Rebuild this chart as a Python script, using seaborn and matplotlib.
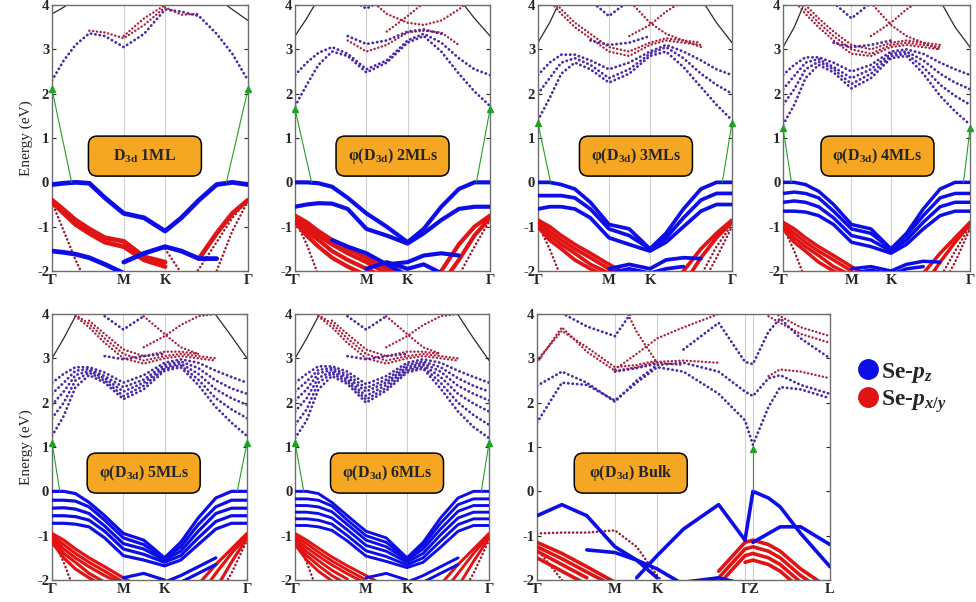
import numpy as np
import pandas as pd
import matplotlib
matplotlib.use('Agg')
import matplotlib.pyplot as plt
from matplotlib.lines import Line2D
from matplotlib.patches import FancyBboxPatch
import seaborn as sns

NA = np.nan

# k path for the slabs: G - M - K - G (fraction of path length)
k_slab = [0, 0.06, 0.12, 0.19, 0.27, 0.366, 0.47, 0.577, 0.66, 0.75, 0.84, 0.92, 1.0]
slab_ticks = [0, 0.366, 0.577, 1.0]
slab_names = ['Γ', 'M', 'K', 'Γ']

# k path for the bulk: G - M - K - G | Z - L
k_bulk = [0, 0.085, 0.17, 0.266, 0.34, 0.41, 0.5, 0.62, 0.71, 0.737, 0.79, 0.83, 0.9, 1.0]
bulk_ticks = [0, 0.266, 0.41, 0.71, 0.737, 1.0]
bulk_names = ['Γ', 'M', 'K', 'Γ', 'Z', 'L']

# ---------------- 1ML ----------------
ml1_blue = [
    [-0.05, -0.02, 0.0, -0.02, -0.35, -0.7, -0.8, -1.1, -0.8, -0.4, -0.05, 0.0, -0.05],
    [-1.55, -1.58, -1.62, -1.7, -1.85, -2.05, NA, NA, NA, NA, NA, NA, NA],
    [NA, NA, NA, NA, NA, -1.8, -1.6, -1.45, -1.55, -1.72, -1.72, NA, NA],
]
ml1_red = [
    [-0.4, -0.62, -0.85, -1.05, -1.25, -1.33, -1.68, -1.8, NA, NA, NA, NA, NA],
    [-0.45, -0.7, -0.95, -1.15, -1.35, -1.45, -1.75, -1.9, NA, NA, NA, NA, NA],
    [NA, NA, NA, NA, NA, NA, NA, NA, NA, -1.72, -1.15, -0.7, -0.4],
]
ml1_red_thin = [
    [-0.45, -1.1, -1.75, -2.4, NA, NA, NA, NA, NA, NA, NA, NA, NA],
    [NA, NA, NA, NA, NA, NA, NA, NA, -2.5, -1.95, -1.35, -0.8, -0.4],
    [NA, NA, NA, NA, NA, NA, NA, NA, NA, -2.8, -2.0, -1.1, -0.42],
    [NA, NA, NA, NA, NA, NA, NA, -1.5, -2.05, NA, NA, NA, NA],
]
ml1_cond = [
    [2.3, 2.75, 3.1, 3.36, 3.3, 3.05, 3.35, 3.9, 3.85, 3.75, 3.35, 2.9, 2.3],
]
ml1_cond_red = [
    [NA, NA, NA, 3.42, 3.38, 3.25, 3.55, 3.95, 3.78, 3.8, NA, NA, NA],
    [NA, NA, NA, NA, NA, 3.3, 3.7, 4.0, 4.15, NA, NA, NA, NA],
]
ml1_dark = [
    [3.8, 3.95, 4.15, NA, NA, NA, NA, NA, NA, NA, NA, NA, NA],
    [NA, NA, NA, NA, NA, NA, NA, NA, NA, NA, 4.15, 3.9, 3.65],
]
ml1_gap = [2.1, 0.1, 0.89]

# ---------------- 2MLs ----------------
ml2_blue = [
    [0.0, 0.0, -0.02, -0.1, -0.35, -0.7, -1.0, -1.35, -1.05, -0.55, -0.15, 0.0, 0.0],
    [-0.55, -0.5, -0.47, -0.48, -0.6, -1.05, -1.2, -1.38, -1.15, -0.85, -0.6, -0.55, -0.55],
    [NA, NA, NA, -1.3, -1.45, -1.6, -1.85, -2.1, NA, NA, NA, NA, NA],
    [NA, NA, NA, NA, NA, NA, -1.85, -1.8, -1.65, -1.6, -1.65, NA, NA],
    [NA, NA, NA, NA, NA, -1.95, -1.8, -1.95, -1.85, -2.05, NA, NA, NA],
]
ml2_red = [
    [-0.75, -0.9, -1.1, -1.3, -1.5, -1.7, -1.95, -2.1, NA, NA, NA, NA, NA],
    [-0.8, -1.0, -1.2, -1.4, -1.6, -1.8, -2.05, NA, NA, NA, NA, NA, NA],
    [-0.85, -1.1, -1.3, -1.55, -1.75, -1.95, -2.15, NA, NA, NA, NA, NA, NA],
    [-0.9, -1.2, -1.45, -1.7, -1.9, -2.1, NA, NA, NA, NA, NA, NA, NA],
    [NA, NA, NA, NA, NA, NA, NA, NA, -2.5, -2.0, -1.4, -1.0, -0.75],
    [NA, NA, NA, NA, NA, NA, NA, NA, NA, -2.3, -1.75, -1.2, -0.8],
]
ml2_red_thin = [
    [-0.85, -1.4, -2.1, NA, NA, NA, NA, NA, NA, NA, NA, NA, NA],
    [NA, NA, NA, NA, NA, NA, NA, NA, NA, NA, -2.1, -1.45, -0.85],
]
ml2_cond = [
    [2.42, 2.7, 2.92, 3.05, 2.9, 2.55, 2.75, 3.2, 3.35, 3.15, 2.8, 2.55, 2.42],
    [1.72, 2.2, 2.65, 2.95, 2.85, 2.48, 2.7, 3.15, 3.3, 2.95, 2.45, 2.05, 1.72],
    [NA, NA, NA, NA, 3.3, 3.12, 3.2, 3.4, 3.45, 3.35, NA, NA, NA],
    [NA, NA, NA, NA, 4.15, 3.92, 4.15, NA, NA, NA, NA, NA, NA],
]
ml2_cond_red = [
    [NA, NA, NA, NA, 3.2, 2.95, 3.1, 3.38, 3.42, 3.38, 3.1, NA, NA],
    [NA, NA, NA, NA, NA, 4.2, 3.8, 3.6, 3.55, 3.65, 3.9, 4.2, NA],
    [NA, NA, NA, NA, NA, NA, 3.4, 3.75, 4.05, NA, NA, NA, NA],
]
ml2_dark = [
    [3.3, 3.7, 4.15, NA, NA, NA, NA, NA, NA, NA, NA, NA, NA],
    [NA, NA, NA, NA, NA, NA, NA, NA, NA, NA, 4.15, 3.7, 3.3],
]
ml2_gap = [1.65, 0.085, 0.93]

# ---------------- 3MLs ----------------
ml3_blue = [
    [0.0, 0.0, -0.05, -0.15, -0.45, -0.95, -1.05, -1.5, -1.15, -0.6, -0.15, 0.0, 0.0],
    [-0.3, -0.3, -0.3, -0.35, -0.6, -1.05, -1.2, -1.5, -1.25, -0.8, -0.4, -0.25, -0.25],
    [-0.6, -0.55, -0.55, -0.6, -0.8, -1.25, -1.4, -1.55, -1.35, -1.0, -0.65, -0.5, -0.5],
    [NA, NA, NA, NA, NA, -1.95, -1.85, -1.95, -1.75, -1.7, -1.72, NA, NA],
    [NA, NA, NA, NA, NA, -2.05, -1.95, -2.05, -1.95, -1.9, NA, NA, NA],
]
ml3_red = [
    [-0.85, -1.0, -1.2, -1.4, -1.6, -1.85, -2.1, NA, NA, NA, NA, NA, NA],
    [-0.9, -1.1, -1.3, -1.5, -1.7, -1.95, -2.2, NA, NA, NA, NA, NA, NA],
    [-0.95, -1.2, -1.4, -1.6, -1.85, -2.05, NA, NA, NA, NA, NA, NA, NA],
    [-1.0, -1.3, -1.5, -1.75, -1.95, -2.15, NA, NA, NA, NA, NA, NA, NA],
    [NA, NA, NA, NA, NA, NA, NA, NA, -2.4, -2.0, -1.5, -1.15, -0.85],
    [NA, NA, NA, NA, NA, NA, NA, NA, NA, -2.3, -1.7, -1.25, -0.9],
]
ml3_red_thin = [
    [-0.95, -1.5, -2.15, NA, NA, NA, NA, NA, NA, NA, NA, NA, NA],
    [NA, NA, NA, NA, NA, NA, NA, NA, NA, NA, -2.1, -1.45, -0.95],
    [NA, NA, NA, NA, NA, NA, NA, NA, NA, NA, -2.35, -1.7, -1.0],
]
ml3_cond = [
    [2.42, 2.7, 2.88, 2.88, 2.75, 2.55, 2.7, 2.95, 3.1, 2.95, 2.75, 2.55, 2.42],
    [2.0, 2.35, 2.7, 2.8, 2.65, 2.35, 2.55, 2.9, 3.05, 2.8, 2.45, 2.2, 2.0],
    [1.4, 1.9, 2.45, 2.7, 2.55, 2.25, 2.45, 2.85, 2.95, 2.6, 2.15, 1.75, 1.4],
    [NA, NA, NA, NA, 3.2, 3.1, 3.15, 3.3, NA, NA, NA, NA, NA],
    [NA, NA, NA, NA, 4.1, 3.75, 4.1, NA, NA, NA, NA, NA, NA],
]
ml3_cond_red = [
    [NA, 4.1, 3.8, 3.5, 3.25, 2.95, 2.85, 3.1, 3.2, 3.15, 3.1, NA, NA],
    [NA, 4.2, 3.9, 3.6, 3.35, 3.05, 2.95, 3.15, 3.25, 3.2, 3.15, NA, NA],
    [NA, NA, NA, NA, NA, NA, 4.1, 3.6, 3.35, 3.2, 3.05, NA, NA],
    [NA, NA, NA, NA, NA, NA, 3.3, 3.55, 3.85, 4.1, NA, NA, NA],
]
ml3_dark = [
    [3.15, 3.6, 4.15, NA, NA, NA, NA, NA, NA, NA, NA, NA, NA],
    [NA, NA, NA, NA, NA, NA, NA, NA, NA, NA, 4.15, 3.6, 3.15],
]
ml3_gap = [1.34, 0.065, 0.95]

# ---------------- 4MLs ----------------
ml4_blue = [
    [0.0, 0.0, -0.05, -0.2, -0.5, -0.95, -1.05, -1.5, -1.15, -0.6, -0.15, 0.0, 0.0],
    [-0.25, -0.22, -0.25, -0.35, -0.65, -1.05, -1.15, -1.5, -1.2, -0.75, -0.35, -0.25, -0.25],
    [-0.45, -0.42, -0.45, -0.55, -0.8, -1.2, -1.3, -1.55, -1.3, -0.9, -0.55, -0.45, -0.45],
    [-0.65, -0.65, -0.67, -0.75, -0.95, -1.35, -1.45, -1.6, -1.4, -1.05, -0.75, -0.65, -0.65],
    [NA, NA, NA, NA, NA, -1.95, -1.9, -2.0, -1.85, -1.78, -1.8, NA, NA],
    [NA, NA, NA, NA, NA, -2.05, -1.98, -2.08, -1.95, -1.9, NA, NA, NA],
]
ml4_red = [
    [-0.9, -1.05, -1.25, -1.45, -1.65, -1.9, -2.15, NA, NA, NA, NA, NA, NA],
    [-0.95, -1.15, -1.35, -1.55, -1.75, -2.0, NA, NA, NA, NA, NA, NA, NA],
    [-1.0, -1.25, -1.45, -1.65, -1.9, -2.1, NA, NA, NA, NA, NA, NA, NA],
    [-1.05, -1.35, -1.55, -1.8, -2.0, -2.2, NA, NA, NA, NA, NA, NA, NA],
    [NA, NA, NA, NA, NA, NA, NA, NA, -2.45, -2.05, -1.6, -1.25, -0.9],
    [NA, NA, NA, NA, NA, NA, NA, NA, NA, -2.35, -1.8, -1.35, -0.95],
]
ml4_red_thin = [
    [-1.0, -1.55, -2.2, NA, NA, NA, NA, NA, NA, NA, NA, NA, NA],
    [NA, NA, NA, NA, NA, NA, NA, NA, NA, NA, -2.15, -1.55, -1.0],
    [NA, NA, NA, NA, NA, NA, NA, NA, NA, NA, -2.4, -1.8, -1.05],
]
ml4_cond = [
    [2.42, 2.65, 2.82, 2.82, 2.7, 2.5, 2.65, 2.95, 3.0, 2.9, 2.7, 2.55, 2.42],
    [2.1, 2.4, 2.7, 2.78, 2.6, 2.35, 2.55, 2.9, 2.95, 2.75, 2.45, 2.25, 2.1],
    [1.75, 2.1, 2.55, 2.72, 2.55, 2.22, 2.45, 2.85, 2.9, 2.6, 2.2, 1.95, 1.75],
    [1.3, 1.75, 2.35, 2.65, 2.48, 2.12, 2.35, 2.8, 2.85, 2.45, 1.95, 1.6, 1.3],
    [NA, NA, NA, NA, 3.15, 3.05, 3.1, 3.2, NA, NA, NA, NA, NA],
    [NA, NA, NA, NA, 4.05, 3.7, 4.05, NA, NA, NA, NA, NA, NA],
]
ml4_cond_red = [
    [NA, NA, 3.9, 3.6, 3.3, 3.0, 2.9, 3.1, 3.15, 3.1, 3.05, NA, NA],
    [NA, NA, 4.0, 3.7, 3.4, 3.1, 3.0, 3.15, 3.2, 3.15, 3.1, NA, NA],
    [NA, 4.1, 3.8, 3.5, 3.2, 2.9, 2.85, 3.05, 3.1, 3.05, 3.0, NA, NA],
    [NA, NA, NA, NA, NA, NA, 4.05, 3.55, 3.3, 3.15, 3.0, NA, NA],
    [NA, NA, NA, NA, NA, NA, 3.3, 3.6, 3.9, 4.15, NA, NA, NA],
]
ml4_dark = [
    [3.05, 3.5, 4.1, NA, NA, NA, NA, NA, NA, NA, NA, NA, NA],
    [NA, NA, NA, NA, NA, NA, NA, NA, NA, NA, 4.1, 3.5, 3.05],
]
ml4_gap = [1.22, 0.045, 0.965]

# ---------------- 5MLs ----------------
ml5_blue = [
    [0.0, 0.0, -0.05, -0.25, -0.55, -0.95, -1.1, -1.5, -1.15, -0.6, -0.15, 0.0, 0.0],
    [-0.2, -0.2, -0.22, -0.35, -0.65, -1.05, -1.2, -1.52, -1.25, -0.75, -0.35, -0.2, -0.2],
    [-0.38, -0.37, -0.4, -0.5, -0.78, -1.18, -1.3, -1.55, -1.35, -0.9, -0.5, -0.38, -0.38],
    [-0.55, -0.55, -0.57, -0.65, -0.9, -1.3, -1.42, -1.6, -1.45, -1.05, -0.68, -0.55, -0.55],
    [-0.72, -0.72, -0.74, -0.8, -1.05, -1.45, -1.55, -1.68, -1.55, -1.2, -0.85, -0.72, -0.72],
    [NA, NA, NA, NA, NA, -1.95, -1.85, -2.0, NA, NA, NA, NA, NA],
    [NA, NA, NA, NA, NA, NA, NA, -2.05, -1.9, -1.7, -1.5, NA, NA],
    [NA, NA, NA, NA, NA, NA, NA, NA, -2.05, -1.85, -1.65, NA, NA],
]
ml5_red = [
    [-0.95, -1.1, -1.3, -1.5, -1.7, -1.95, -2.2, NA, NA, NA, NA, NA, NA],
    [-1.0, -1.2, -1.4, -1.6, -1.8, -2.05, NA, NA, NA, NA, NA, NA, NA],
    [-1.05, -1.3, -1.5, -1.7, -1.9, -2.1, NA, NA, NA, NA, NA, NA, NA],
    [-1.1, -1.4, -1.6, -1.85, -2.05, NA, NA, NA, NA, NA, NA, NA, NA],
    [-1.15, -1.5, -1.75, -1.95, -2.15, NA, NA, NA, NA, NA, NA, NA, NA],
    [NA, NA, NA, NA, NA, NA, NA, NA, -2.5, -2.1, -1.65, -1.3, -0.95],
    [NA, NA, NA, NA, NA, NA, NA, NA, NA, -2.4, -1.85, -1.4, -1.0],
    [NA, NA, NA, NA, NA, NA, NA, NA, NA, NA, -2.2, -1.6, -1.05],
]
ml5_red_thin = [
    [-1.05, -1.6, -2.3, NA, NA, NA, NA, NA, NA, NA, NA, NA, NA],
    [NA, NA, NA, NA, NA, NA, NA, NA, NA, NA, -2.45, -1.85, -1.1],
]
ml5_cond = [
    [2.45, 2.65, 2.8, 2.8, 2.68, 2.45, 2.62, 2.9, 2.98, 2.9, 2.72, 2.58, 2.45],
    [2.2, 2.45, 2.72, 2.76, 2.6, 2.35, 2.52, 2.85, 2.93, 2.78, 2.5, 2.32, 2.2],
    [1.95, 2.25, 2.62, 2.72, 2.55, 2.25, 2.45, 2.8, 2.88, 2.65, 2.3, 2.1, 1.95],
    [1.65, 2.0, 2.5, 2.68, 2.5, 2.15, 2.38, 2.76, 2.84, 2.52, 2.1, 1.85, 1.65],
    [1.25, 1.7, 2.35, 2.62, 2.45, 2.08, 2.3, 2.72, 2.8, 2.4, 1.9, 1.55, 1.25],
    [NA, NA, NA, NA, 3.05, 2.98, 3.05, 3.1, NA, NA, NA, NA, NA],
    [NA, NA, NA, NA, 3.95, 3.65, 3.95, NA, NA, NA, NA, NA, NA],
]
ml5_cond_red = [
    [NA, NA, 3.95, 3.7, 3.35, 3.0, 2.88, 3.0, 3.05, 3.0, 2.95, NA, NA],
    [NA, NA, 3.98, 3.78, 3.45, 3.1, 2.95, 3.05, 3.1, 3.05, 3.0, NA, NA],
    [NA, NA, NA, 3.85, 3.55, 3.2, 3.05, 3.15, 3.15, 3.1, NA, NA, NA],
    [NA, NA, NA, NA, NA, NA, 3.95, 3.55, 3.25, 3.1, NA, NA, NA],
    [NA, NA, NA, NA, NA, NA, 3.25, 3.5, 3.75, 3.95, 4.0, NA, NA],
]
ml5_dark = [
    [3.0, 3.45, 3.95, NA, NA, NA, NA, NA, NA, NA, NA, NA, NA],
    [NA, NA, NA, NA, NA, NA, NA, NA, NA, NA, 3.98, 3.5, 3.0],
]
ml5_gap = [1.1, 0.04, 0.95]

# ---------------- 6MLs ----------------
ml6_blue = [
    [0.0, 0.0, -0.05, -0.25, -0.55, -0.9, -1.05, -1.5, -1.15, -0.6, -0.15, 0.0, 0.0],
    [-0.17, -0.17, -0.2, -0.33, -0.65, -1.0, -1.15, -1.52, -1.22, -0.72, -0.3, -0.17, -0.17],
    [-0.32, -0.32, -0.35, -0.46, -0.75, -1.1, -1.25, -1.55, -1.3, -0.85, -0.45, -0.32, -0.32],
    [-0.47, -0.47, -0.5, -0.6, -0.87, -1.22, -1.35, -1.6, -1.4, -0.98, -0.6, -0.47, -0.47],
    [-0.62, -0.62, -0.65, -0.74, -1.0, -1.34, -1.47, -1.66, -1.5, -1.12, -0.75, -0.62, -0.62],
    [-0.77, -0.77, -0.8, -0.88, -1.12, -1.46, -1.58, -1.72, -1.6, -1.26, -0.9, -0.77, -0.77],
    [NA, NA, NA, NA, NA, -1.95, -1.85, -2.0, NA, NA, NA, NA, NA],
    [NA, NA, NA, NA, NA, NA, NA, -2.05, -1.9, -1.7, -1.5, NA, NA],
    [NA, NA, NA, NA, NA, NA, NA, NA, -2.05, -1.85, -1.65, NA, NA],
]
ml6_red = [
    [-0.95, -1.1, -1.28, -1.48, -1.68, -1.9, -2.15, NA, NA, NA, NA, NA, NA],
    [-1.0, -1.18, -1.37, -1.57, -1.77, -2.0, NA, NA, NA, NA, NA, NA, NA],
    [-1.05, -1.27, -1.46, -1.66, -1.86, -2.08, NA, NA, NA, NA, NA, NA, NA],
    [-1.1, -1.36, -1.56, -1.78, -1.98, NA, NA, NA, NA, NA, NA, NA, NA],
    [-1.15, -1.45, -1.67, -1.9, -2.1, NA, NA, NA, NA, NA, NA, NA, NA],
    [-1.2, -1.55, -1.8, -2.02, NA, NA, NA, NA, NA, NA, NA, NA, NA],
    [NA, NA, NA, NA, NA, NA, NA, NA, -2.5, -2.1, -1.65, -1.3, -0.95],
    [NA, NA, NA, NA, NA, NA, NA, NA, NA, -2.35, -1.85, -1.4, -1.0],
    [NA, NA, NA, NA, NA, NA, NA, NA, NA, NA, -2.15, -1.58, -1.05],
]
ml6_red_thin = [
    [-1.05, -1.6, -2.3, NA, NA, NA, NA, NA, NA, NA, NA, NA, NA],
    [NA, NA, NA, NA, NA, NA, NA, NA, NA, NA, -2.45, -1.85, -1.1],
]
ml6_cond = [
    [2.45, 2.65, 2.82, 2.82, 2.7, 2.42, 2.6, 2.9, 2.98, 2.9, 2.72, 2.58, 2.45],
    [2.25, 2.48, 2.74, 2.78, 2.63, 2.33, 2.52, 2.85, 2.93, 2.8, 2.55, 2.38, 2.25],
    [2.05, 2.3, 2.66, 2.74, 2.57, 2.25, 2.46, 2.8, 2.89, 2.7, 2.38, 2.2, 2.05],
    [1.8, 2.1, 2.56, 2.7, 2.52, 2.15, 2.4, 2.76, 2.85, 2.58, 2.2, 1.98, 1.8],
    [1.5, 1.85, 2.45, 2.66, 2.47, 2.07, 2.33, 2.72, 2.81, 2.45, 2.0, 1.72, 1.5],
    [1.2, 1.6, 2.3, 2.6, 2.42, 2.0, 2.27, 2.68, 2.77, 2.32, 1.8, 1.45, 1.2],
    [NA, NA, NA, NA, 3.05, 2.98, 3.05, 3.1, NA, NA, NA, NA, NA],
    [NA, NA, NA, NA, 3.95, 3.65, 3.95, NA, NA, NA, NA, NA, NA],
]
ml6_cond_red = [
    [NA, NA, 3.95, 3.7, 3.35, 3.0, 2.88, 3.0, 3.05, 3.0, 2.95, NA, NA],
    [NA, NA, 3.98, 3.78, 3.45, 3.1, 2.95, 3.05, 3.1, 3.05, 3.0, NA, NA],
    [NA, NA, NA, 3.85, 3.55, 3.2, 3.05, 3.15, 3.15, 3.1, NA, NA, NA],
    [NA, NA, NA, NA, NA, NA, 3.95, 3.55, 3.25, 3.1, NA, NA, NA],
    [NA, NA, NA, NA, NA, NA, 3.25, 3.5, 3.75, 3.95, 4.0, NA, NA],
]
ml6_dark = [
    [3.0, 3.45, 3.95, NA, NA, NA, NA, NA, NA, NA, NA, NA, NA],
    [NA, NA, NA, NA, NA, NA, NA, NA, NA, NA, 3.98, 3.45, 2.95],
]
ml6_gap = [1.1, 0.045, 0.96]

# ---------------- Bulk ----------------
bulk_blue = [
    [-0.55, -0.3, -0.55, -1.25, -1.55, -1.95, NA, NA, NA, NA, NA, NA, NA, NA],
    [NA, NA, -1.32, -1.38, -1.55, -1.75, -2.1, NA, NA, NA, NA, NA, NA, NA],
    [NA, NA, NA, NA, -1.95, -1.45, -0.85, -0.3, -1.1, NA, NA, NA, NA, NA],
    [NA, NA, NA, NA, NA, NA, NA, NA, -1.1, 0.0, -0.15, -0.35, -0.95, -1.7],
    [NA, NA, NA, NA, NA, NA, NA, NA, NA, -1.15, -0.95, -0.8, -0.8, -1.2],
    [NA, NA, NA, NA, NA, NA, -2.05, -1.95, -2.1, NA, NA, NA, NA, NA],
]
bulk_red = [
    [-1.15, -1.4, -1.7, -2.05, NA, NA, NA, NA, NA, NA, NA, NA, NA, NA],
    [-1.25, -1.52, -1.82, -2.15, NA, NA, NA, NA, NA, NA, NA, NA, NA, NA],
    [-1.35, -1.65, -1.95, NA, NA, NA, NA, NA, NA, NA, NA, NA, NA, NA],
    [-1.5, -1.8, -2.1, NA, NA, NA, NA, NA, NA, NA, NA, NA, NA, NA],
    [NA, NA, NA, NA, NA, NA, NA, -1.8, -1.15, -1.1, -1.2, -1.35, -1.75, -2.2],
    [NA, NA, NA, NA, NA, NA, NA, -1.95, -1.3, -1.25, -1.35, -1.5, -1.9, -2.35],
    [NA, NA, NA, NA, NA, NA, NA, -2.1, -1.45, -1.4, -1.5, -1.65, -2.05, NA],
    [NA, NA, NA, NA, NA, NA, NA, NA, -1.6, -1.55, -1.65, -1.8, -2.2, NA],
]
bulk_red_thin = [
    [-1.3, -2.0, -2.7, NA, NA, NA, NA, NA, NA, NA, NA, NA, NA, NA],
    [-0.95, -0.93, -0.93, -0.88, -1.25, -1.9, -2.6, NA, NA, NA, NA, NA, NA, NA],
]
bulk_cond = [
    [2.38, 2.7, 2.45, 2.02, 2.5, 2.85, 2.9, 2.7, 2.25, 2.15, 2.55, 2.62, 2.4, 2.2],
    [1.55, 2.45, 2.4, 2.05, 2.45, 2.8, 2.7, 2.2, 1.6, 1.05, 1.9, 2.35, 2.3, 2.1],
    [NA, NA, NA, 2.7, 2.78, 2.88, NA, NA, NA, NA, NA, NA, NA, NA],
    [NA, 4.02, 3.72, 3.5, 4.2, NA, NA, NA, NA, NA, NA, NA, NA, NA],
    [NA, NA, NA, NA, NA, NA, 3.2, 3.8, 2.92, 2.87, 3.6, 3.9, 3.45, 3.0],
]
bulk_cond_red = [
    [2.9, 3.7, 3.15, 2.72, 2.8, 2.92, 2.95, 2.9, NA, NA, NA, NA, NA, NA],
    [2.95, 3.62, 3.25, 2.8, 2.85, 2.95, NA, NA, NA, NA, NA, NA, NA, NA],
    [NA, NA, NA, 4.6, 3.6, 2.9, 2.85, NA, NA, NA, NA, NA, NA, NA],
    [NA, NA, NA, 2.75, 3.1, 3.45, 3.7, 4.0, NA, NA, NA, NA, NA, NA],
    [NA, NA, NA, NA, NA, NA, NA, NA, NA, NA, 3.95, 3.8, 3.55, 3.35],
    [NA, NA, NA, NA, NA, NA, NA, NA, NA, NA, 4.1, 3.95, 3.7, 3.5],
    [NA, NA, NA, NA, NA, NA, NA, NA, NA, NA, 2.6, 2.75, 2.7, 2.55],
]
bulk_dark = []
bulk_gap = [0.95, 0.737]

labels = {
    'ml1': r'D$_{\mathrm{3d}}$ 1ML',
    'ml2': r'φ(D$_{\mathrm{3d}}$) 2MLs',
    'ml3': r'φ(D$_{\mathrm{3d}}$) 3MLs',
    'ml4': r'φ(D$_{\mathrm{3d}}$) 4MLs',
    'ml5': r'φ(D$_{\mathrm{3d}}$) 5MLs',
    'ml6': r'φ(D$_{\mathrm{3d}}$) 6MLs',
    'bulk': r'φ(D$_{\mathrm{3d}}$) Bulk',
}

# ---------------- styling ----------------
sns.set_style('white')
plt.rcParams['font.family'] = ['Liberation Serif', 'DejaVu Serif']
plt.rcParams['font.weight'] = 'bold'
plt.rcParams['mathtext.fontset'] = 'custom'
plt.rcParams['mathtext.rm'] = 'Liberation Serif:bold'
plt.rcParams['mathtext.it'] = 'Liberation Serif:bold:italic'
plt.rcParams['mathtext.bf'] = 'Liberation Serif:bold'
plt.rcParams['axes.unicode_minus'] = False

BLUE = '#0d0de6'
RED = '#e01414'
MIX = '#4b2aa6'
MIXRED = '#a8203c'
DARK = '#2a2a2a'
GREEN = '#22a022'
DOTS = (0, (0.1, 1.5))

panels = {
    'ml1': (ml1_blue, ml1_red, ml1_red_thin, ml1_cond, ml1_cond_red, ml1_dark, ml1_gap),
    'ml2': (ml2_blue, ml2_red, ml2_red_thin, ml2_cond, ml2_cond_red, ml2_dark, ml2_gap),
    'ml3': (ml3_blue, ml3_red, ml3_red_thin, ml3_cond, ml3_cond_red, ml3_dark, ml3_gap),
    'ml4': (ml4_blue, ml4_red, ml4_red_thin, ml4_cond, ml4_cond_red, ml4_dark, ml4_gap),
    'ml5': (ml5_blue, ml5_red, ml5_red_thin, ml5_cond, ml5_cond_red, ml5_dark, ml5_gap),
    'ml6': (ml6_blue, ml6_red, ml6_red_thin, ml6_cond, ml6_cond_red, ml6_dark, ml6_gap),
    'bulk': (bulk_blue, bulk_red, bulk_red_thin, bulk_cond, bulk_cond_red, bulk_dark, bulk_gap),
}

H = 0.4419
rects = {
    'ml1': [0.0533, 0.5498, 0.2008, H],
    'ml2': [0.3023, 0.5498, 0.1998, H],
    'ml3': [0.5512, 0.5498, 0.1988, H],
    'ml4': [0.8023, 0.5498, 0.1916, H],
    'ml5': [0.0533, 0.0365, 0.1998, H],
    'ml6': [0.3023, 0.0365, 0.1988, H],
    'bulk': [0.5502, 0.0365, 0.3002, H],
}
box_pos = {
    'ml1': (0.474, 0.432), 'ml2': (0.50, 0.432), 'ml3': (0.505, 0.432),
    'ml4': (0.505, 0.432), 'ml5': (0.47, 0.402), 'ml6': (0.474, 0.402),
    'bulk': (0.32, 0.402),
}
val_lw = {'ml1': 3.4, 'ml2': 3.0, 'ml3': 2.7, 'ml4': 2.5, 'ml5': 2.3, 'ml6': 2.1, 'bulk': 2.6}


def band_frame(kgrid, bands):
    rows = []
    for b, vals in enumerate(bands):
        for k, e in zip(kgrid, vals):
            if not np.isnan(e):
                rows.append((b, k, e))
    return pd.DataFrame(rows, columns=['band', 'k', 'E'])


def draw(ax, kgrid, bands, color, lw, ls='-', z=2):
    if len(bands) == 0:
        return
    df = band_frame(kgrid, bands)
    sns.lineplot(data=df, x='k', y='E', units='band', estimator=None, sort=False,
                 color=color, lw=lw, linestyle=ls, ax=ax, legend=False,
                 dash_capstyle='round', solid_capstyle='round',
                 solid_joinstyle='round', zorder=z)


fig = plt.figure(figsize=(9.76, 6.02), dpi=100)

for name, (blue, red, red_thin, cond, cond_red, dark, gap) in panels.items():
    ax = fig.add_axes(rects[name])
    is_bulk = name == 'bulk'
    kg = k_bulk if is_bulk else k_slab
    ticks = bulk_ticks if is_bulk else slab_ticks
    names = bulk_names if is_bulk else slab_names

    for v in ticks[1:-1]:
        ax.axvline(v, color='#cfcfcf', lw=0.8, zorder=0)

    draw(ax, kg, dark, DARK, 0.9)
    draw(ax, kg, cond_red, MIXRED, 1.7, DOTS)
    draw(ax, kg, cond, MIX, 2.0, DOTS)
    draw(ax, kg, red_thin, '#9a1a30', 1.8, DOTS)
    draw(ax, kg, red, RED, val_lw[name], z=3)
    draw(ax, kg, blue, BLUE, val_lw[name], z=4)

    # band gap marker
    if is_bulk:
        ax.plot([gap[1], gap[1]], [0, gap[0]], color=GREEN, lw=0.8, zorder=5)
        ax.plot([gap[1]], [gap[0]], marker='^', color=GREEN, ms=5, zorder=6)
    else:
        ax.plot([0, gap[1]], [gap[0], 0], color=GREEN, lw=0.8, zorder=5)
        ax.plot([1, gap[2]], [gap[0], 0], color=GREEN, lw=0.8, zorder=5)
        ax.plot([0, 1], [gap[0], gap[0]], ls='', marker='^', color=GREEN, ms=5,
                zorder=6, clip_on=False)

    ax.set_xlim(0, 1)
    ax.set_ylim(-2, 4)
    ax.set_xticks(ticks)
    ax.set_xticklabels(names)
    ax.set_yticks(range(-2, 5))
    ax.tick_params(axis='x', length=0, labelsize=10.5, pad=2.5)
    ax.tick_params(axis='y', direction='in', length=3, labelsize=10.5, pad=2,
                   right=True, left=True)
    for s in ax.spines.values():
        s.set_color('#6e6e6e')
        s.set_linewidth(1.0)
    ax.set_xlabel('')
    if name in ('ml1', 'ml5'):
        ax.set_ylabel('Energy (eV)', fontsize=11, labelpad=3)
    else:
        ax.set_ylabel('')

    # orange label box, fixed size in inches
    fx, fy = box_pos[name]
    cx, cy = fig.dpi_scale_trans.inverted().transform(ax.transAxes.transform((fx, fy)))
    w, h = 1.13, 0.40
    box = FancyBboxPatch((cx - w / 2, cy - h / 2), w, h,
                         boxstyle='round,pad=0,rounding_size=0.09',
                         transform=fig.dpi_scale_trans, fc='#F5A623', ec='black',
                         lw=1.1, zorder=10)
    fig.add_artist(box)
    fig.text(cx, cy, labels[name], transform=fig.dpi_scale_trans, ha='center',
             va='center', fontsize=11.5, zorder=11)

handles = [Line2D([], [], ls='', marker='o', ms=14, mfc=BLUE, mec=BLUE),
           Line2D([], [], ls='', marker='o', ms=14, mfc=RED, mec=RED)]
fig.legend(handles, ['Se-$p_z$', 'Se-$p_{x/y}$'], loc='center left',
           bbox_to_anchor=(0.868, 0.356), frameon=False, fontsize=17,
           handletextpad=0.05, handlelength=1.0, labelspacing=0.15,
           borderaxespad=0)

fig.savefig('out.png', dpi=100)
